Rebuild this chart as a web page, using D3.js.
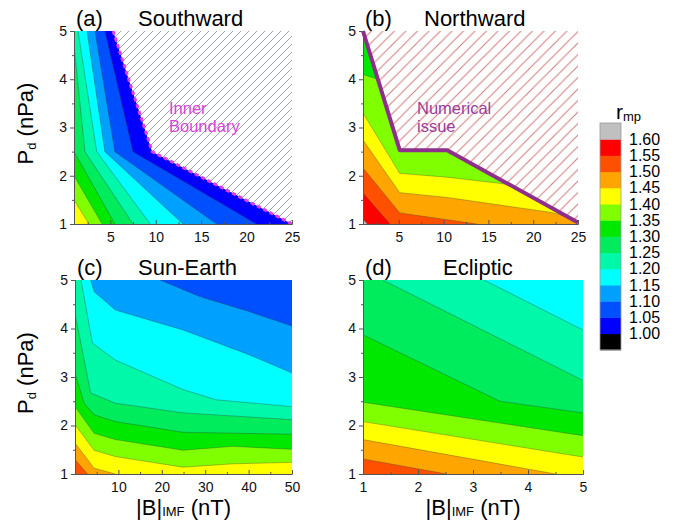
<!DOCTYPE html>
<html>
<head>
<meta charset="utf-8">
<script src="https://cdn.jsdelivr.net/npm/d3@7"></script>
<style>
  body { margin: 0; background: #fff; }
  text { font-family: "Liberation Sans", Arial, sans-serif; }
</style>
</head>
<body>
<script>
const width = 691,
      height = 524;

// r_mp contour levels and the colour of each band (below 1.00 ... above 1.60)
const levels = [1.00, 1.05, 1.10, 1.15, 1.20, 1.25, 1.30, 1.35, 1.40, 1.45, 1.50, 1.55, 1.60];
const bandColors = ["#000000", "#0000ff", "#0050ff", "#00a0ff", "#00ffff", "#00f8a8",
                    "#00ec5c", "#00e800", "#80ff00", "#ffff00", "#ffa500", "#ff5000",
                    "#ff0000", "#c0c0c0"];

// (a) Southward: contour lines [|B|, Pd], one per level
const southLevels = [1.05, 1.10, 1.15, 1.20, 1.25, 1.30, 1.35, 1.40];
const southLines = [
  [[4.41, 5], [7.5, 2.5], [21.1, 1]],
  [[3.31, 5], [5.5, 2.5], [16.7, 1]],
  [[2.43, 5], [4.4, 2.5], [13.0, 1]],
  [[1.44, 5], [3.5, 2.5], [9.4, 1]],
  [[1, 4.7], [2.2, 2.5], [7.5, 1]],
  [[1, 2.5], [5.5, 1]],
  [[1, 2.0], [4.1, 1]],
  [[1, 1.5], [2.65, 1]]
];
const southEdge = [[5.3, 5], [9.6, 2.5], [25, 1]];

// (b) Northward
const northLevels = [1.35, 1.40, 1.45, 1.50, 1.55, 1.60];
const northLines = [
  [[1, 4.1], [2.66, 4.0], [25, 4.0]],
  [[1, 3.3], [5.1, 2.05], [10.4, 1.97], [16, 1.85], [25, 1.6]],
  [[1, 2.74], [5.1, 1.65], [10.4, 1.55], [22, 1.24], [25, 1.1]],
  [[1, 2.16], [5.1, 1.23], [13.7, 1]],
  [[1, 1.64], [4, 1]],
  [[1, 1.1], [1.5, 1]]
];
const northEdge = [[1, 5], [5.1, 2.53], [10.4, 2.53], [25, 1.03]];

// (c) Sun-Earth
const sunLevels = [1.10, 1.15, 1.20, 1.25, 1.30, 1.35, 1.40, 1.45, 1.50];
const sunLines = [
  [[19.6, 5], [28.7, 4.66], [40.1, 4.35], [50, 4.05]],
  [[3.6, 5], [4.4, 4.76], [9.3, 4.38], [24.9, 3.97], [40.1, 3.46], [50, 3.08]],
  [[1.4, 5], [4.0, 3.7], [9.3, 3.35], [24.9, 2.74], [32.5, 2.53], [50, 2.39]],
  [[0, 4.31], [3.6, 2.67], [9.3, 2.46], [24.9, 2.26], [50, 2.12]],
  [[0, 3.08], [2.1, 2.46], [4.4, 2.22], [9.3, 2.08], [24.9, 1.86], [50, 1.82]],
  [[0, 2.39], [4.4, 1.84], [9.3, 1.71], [24.9, 1.49], [36.3, 1.57], [50, 1.51]],
  [[0, 2.02], [4.4, 1.49], [9.3, 1.36], [24.9, 1.14], [36.3, 1.21], [50, 1.24]],
  [[0, 1.64], [4.4, 1.12], [9.3, 1]],
  [[0, 1.30], [2.9, 1]]
];

// (d) Ecliptic
const eclLevels = [1.20, 1.25, 1.30, 1.35, 1.40, 1.45, 1.50];
const eclLines = [
  [[3.2, 5], [5, 3.97]],
  [[1.36, 5], [5, 2.93]],
  [[1, 3.87], [3.49, 2.5], [5, 2.26]],
  [[1, 2.48], [5, 1.79]],
  [[1, 2.08], [5, 1.35]],
  [[1, 1.71], [4.5, 1]],
  [[1, 1.31], [2.52, 1]]
];

const svg = d3.select("body")
    .append("svg")
    .attr("width", width)
    .attr("height", height);

const defs = svg.append("defs");

const bandColor = v => bandColors[levels.findIndex(l => Math.abs(l - v) < 1e-6) + 1];

// close a contour line round the lower-left (higher r_mp) side of the plot
function closeBelow(pts, xd, yd) {
  const p = pts.slice();
  const first = p[0], last = p[p.length - 1];
  if (last[0] >= xd[1] && last[1] > yd[0]) p.push([xd[1], yd[0]]);
  p.push([xd[0], yd[0]]);
  if (first[1] >= yd[1] && first[0] > xd[0]) p.push([xd[0], yd[1]]);
  return p;
}

function hatch(id, color, step) {
  const p = defs.append("pattern")
      .attr("id", id)
      .attr("patternUnits", "userSpaceOnUse")
      .attr("width", step)
      .attr("height", step);
  p.append("rect").attr("width", step).attr("height", step).attr("fill", "#fff");
  p.append("path")
      .attr("d", `M0,${step} L${step},0 M${-step / 2},${step / 2} L${step / 2},${-step / 2} M${step / 2},${step * 1.5} L${step * 1.5},${step / 2}`)
      .attr("stroke", color)
      .attr("stroke-width", 1);
}
hatch("hatch-a", "#98a6b2", 8);
hatch("hatch-b", "#d07a7a", 11.5);

function styleAxis(sel) {
  sel.select(".domain").attr("stroke", "#555");
  sel.selectAll(".tick line").attr("stroke", "#555");
  sel.selectAll("text")
      .attr("font-size", 14)
      .attr("fill", "#111")
      .attr("font-family", "Liberation Sans, Arial, sans-serif");
}

const fmt = d3.format("d");

function drawPanel(p) {
  const xd = p.xDomain, yd = [1, 5];
  const x = d3.scaleLinear().domain(xd).range(p.xRange);
  const y = d3.scaleLinear().domain(yd).range(p.yRange);
  const line = d3.line().x(d => x(d[0])).y(d => y(d[1]));
  const g = svg.append("g");

  const box = [[xd[0], yd[0]], [xd[1], yd[0]], [xd[1], yd[1]], [xd[0], yd[1]]];
  const clipId = "clip-" + p.id;
  defs.append("clipPath").attr("id", clipId)
    .append("path")
      .attr("d", line(p.edge ? closeBelow(p.edge, xd, yd) : box) + "Z");

  if (p.hatch) {
    g.append("path")
        .attr("d", line(box) + "Z")
        .attr("fill", `url(#${p.hatch})`);
  }

  const inner = g.append("g").attr("clip-path", `url(#${clipId})`);
  inner.append("path")
      .attr("d", line(box) + "Z")
      .attr("fill", bandColor(p.base));

  inner.selectAll("path.band")
      .data(p.lines)
      .join("path")
      .attr("class", "band")
      .attr("d", d => line(closeBelow(d, xd, yd)) + "Z")
      .attr("fill", (d, i) => bandColor(p.levels[i]));

  inner.selectAll("path.iso")
      .data(p.lines)
      .join("path")
      .attr("class", "iso")
      .attr("d", line)
      .attr("fill", "none")
      .attr("stroke", "#333")
      .attr("stroke-opacity", 0.55)
      .attr("stroke-width", 0.6);

  if (p.edge) {
    g.append("path")
        .attr("d", line(p.edge))
        .attr("fill", "none")
        .attr("stroke", p.edgeColor)
        .attr("stroke-width", p.edgeWidth)
        .attr("stroke-dasharray", p.edgeDash || null)
        .attr("stroke-linejoin", "round");
  }

  // axes: major ticks with labels, minor ticks in their own group
  const gx = g.append("g")
      .attr("transform", `translate(0,${p.yRange[0]})`)
      .call(d3.axisBottom(x).tickValues(p.xTicks).tickFormat(fmt).tickSize(-4).tickSizeOuter(0).tickPadding(8));
  styleAxis(gx);
  const gxm = g.append("g")
      .attr("transform", `translate(0,${p.yRange[0]})`)
      .call(d3.axisBottom(x).tickValues(p.xMinor).tickSize(-2).tickSizeOuter(0).tickFormat(""));
  styleAxis(gxm);

  const gy = g.append("g")
      .attr("transform", `translate(${p.xRange[0]},0)`)
      .call(d3.axisLeft(y).tickValues([1, 2, 3, 4, 5]).tickFormat(fmt).tickSize(4).tickSizeOuter(0).tickPadding(3));
  styleAxis(gy);
  const gym = g.append("g")
      .attr("transform", `translate(${p.xRange[0]},0)`)
      .call(d3.axisLeft(y).tickValues([1.5, 2.5, 3.5, 4.5]).tickSize(2).tickSizeOuter(0).tickFormat(""));
  styleAxis(gym);

  // titles
  g.append("text")
      .attr("x", p.xRange[0] + 2)
      .attr("y", p.yRange[1] - 5)
      .attr("font-size", 22)
      .text(p.tag);
  g.append("text")
      .attr("x", p.titleX)
      .attr("y", p.yRange[1] - 5)
      .attr("font-size", 22)
      .text(p.title);

  if (p.yLabel) {
    const t = g.append("text")
        .attr("transform", `translate(33,${(p.yRange[0] + p.yRange[1]) / 2 - 4}) rotate(-90)`)
        .attr("text-anchor", "middle")
        .attr("font-size", 22);
    t.append("tspan").text("P");
    t.append("tspan").attr("font-size", 13).attr("dy", 3).text("d");
    t.append("tspan").attr("dy", -3).text(" (nPa)");
  }
  if (p.xLabel) {
    const t = g.append("text")
        .attr("x", (p.xRange[0] + p.xRange[1]) / 2)
        .attr("y", 515)
        .attr("text-anchor", "middle")
        .attr("font-size", 22);
    t.append("tspan").text("|B|");
    t.append("tspan").attr("font-size", 13).attr("dy", 1).text("IMF");
    t.append("tspan").attr("dy", -1).text(" (nT)");
  }
  if (p.note) {
    g.selectAll("text.note")
        .data(p.note)
        .join("text")
        .attr("class", "note")
        .attr("x", p.noteX)
        .attr("y", (d, i) => p.noteY + i * 18)
        .attr("font-size", 16.5)
        .attr("fill", p.noteColor)
        .text(d => d);
  }
}

drawPanel({
  id: "a", tag: "(a)", title: "Southward", titleX: 138,
  xDomain: [1, 25], xRange: [74, 292], yRange: [224, 31],
  xTicks: [5, 10, 15, 20, 25], xMinor: [2.5, 7.5, 12.5, 17.5, 22.5],
  levels: southLevels, lines: southLines, base: 1.00,
  edge: southEdge, edgeColor: "#e03ce0", edgeWidth: 3, edgeDash: "4,3", hatch: "hatch-a",
  note: ["Inner", "Boundary"], noteX: 169, noteY: 114, noteColor: "#d844d8",
  yLabel: true
});

drawPanel({
  id: "b", tag: "(b)", title: "Northward", titleX: 424,
  xDomain: [1, 25], xRange: [363, 578], yRange: [224, 31],
  xTicks: [5, 10, 15, 20, 25], xMinor: [2.5, 7.5, 12.5, 17.5, 22.5],
  levels: northLevels, lines: northLines, base: 1.30,
  edge: northEdge, edgeColor: "#8e2f8e", edgeWidth: 4, hatch: "hatch-b",
  note: ["Numerical", "issue"], noteX: 417, noteY: 114, noteColor: "#9a3c9a"
});

drawPanel({
  id: "c", tag: "(c)", title: "Sun-Earth", titleX: 138,
  xDomain: [0, 50], xRange: [75, 292], yRange: [474, 280],
  xTicks: [10, 20, 30, 40, 50], xMinor: [5, 15, 25, 35, 45],
  levels: sunLevels, lines: sunLines, base: 1.05,
  yLabel: true, xLabel: true
});

drawPanel({
  id: "d", tag: "(d)", title: "Ecliptic", titleX: 443,
  xDomain: [1, 5], xRange: [363, 583], yRange: [474, 280],
  xTicks: [1, 2, 3, 4, 5], xMinor: [1.5, 2.5, 3.5, 4.5],
  levels: eclLevels, lines: eclLines, base: 1.15,
  xLabel: true
});

// colour legend
const ly = d3.scaleLinear()
    .domain([1.60, 1.00])
    .range([139.2, 333.6]);

const legend = svg.append("g").attr("class", "key");

legend.selectAll("rect.box")
    .data(bandColors)
    .join("rect")
    .attr("class", "box")
    .attr("x", 600)
    .attr("width", 21)
    .attr("y", (d, i) => ly(0.95 + 0.05 * i + 0.05))
    .attr("height", (d, i) => ly(0.95 + 0.05 * i) - ly(0.95 + 0.05 * i + 0.05) + 0.5)
    .attr("fill", d => d);

legend.append("rect")
    .attr("x", 600)
    .attr("y", ly(1.65))
    .attr("width", 21)
    .attr("height", ly(0.95) - ly(1.65))
    .attr("fill", "none")
    .attr("stroke", "#999")
    .attr("stroke-width", 0.8);

legend.selectAll("text.lab")
    .data(levels)
    .join("text")
    .attr("class", "lab")
    .attr("x", 629)
    .attr("y", d => ly(d) + 5.5)
    .attr("font-size", 16)
    .text(d => d.toFixed(2));

const rt = legend.append("text")
    .attr("x", 616)
    .attr("y", 119)
    .attr("font-size", 21);
rt.append("tspan").text("r");
rt.append("tspan").attr("font-size", 13).attr("dy", 2).text("mp");
</script>
</body>
</html>
